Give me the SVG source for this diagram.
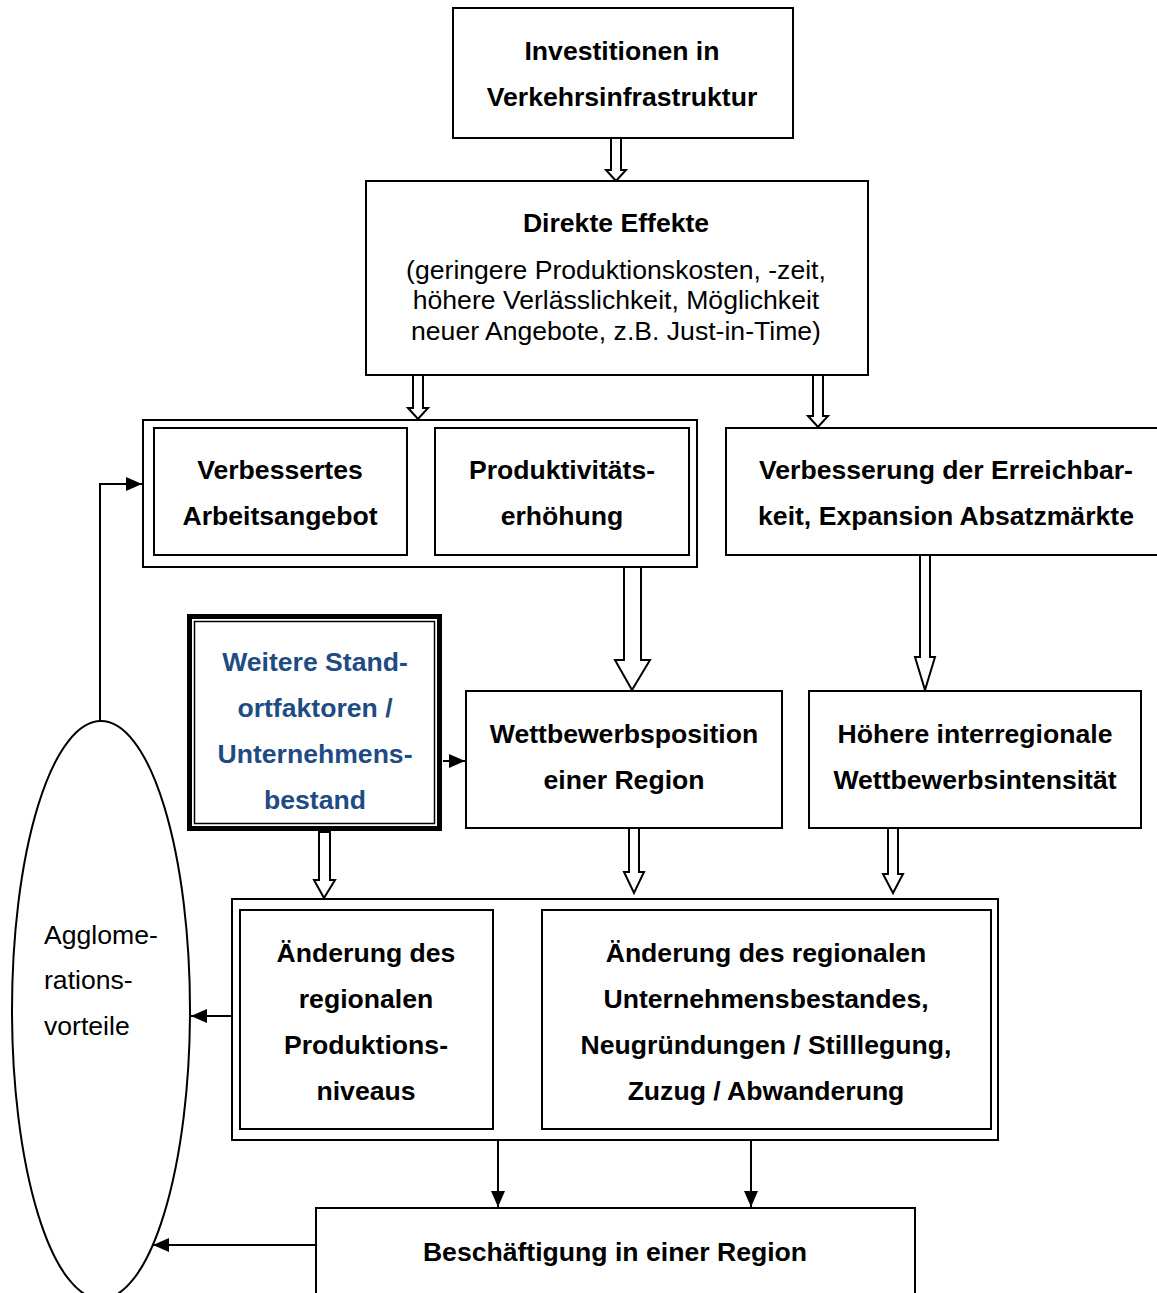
<svg xmlns="http://www.w3.org/2000/svg" width="1157" height="1293" viewBox="0 0 1157 1293">
<style>
.box{fill:#fff;stroke:#000;stroke-width:2}
.hol{fill:#fff;stroke:#000;stroke-width:2;stroke-linejoin:miter}
.ln{fill:none;stroke:#000;stroke-width:2}
.t{font-family:"Liberation Sans",Arial,sans-serif;font-size:26.6px;font-weight:bold;text-anchor:middle;fill:#000}
.r{font-family:"Liberation Sans",Arial,sans-serif;font-size:26.6px;text-anchor:middle;fill:#000}
.l{text-anchor:start}
.b{fill:#1f4b85}
</style>
<defs>
<marker id="ah" markerUnits="userSpaceOnUse" markerWidth="16" markerHeight="14" refX="16" refY="7" orient="auto">
<path d="M0,0 L16,7 L0,14 z" fill="#000"/>
</marker>
</defs>
<rect width="1157" height="1293" fill="#fff"/>

<g id="connectors">
<polygon class="hol" points="611,138 621,138 621,170 626,170 616,181 606,170 611,170"/>
<polygon class="hol" points="413,375 423,375 423,408 428,408 418,419 408,408 413,408"/>
<polygon class="hol" points="813,375 823,375 823,416 828,416 818,427 808,416 813,416"/>
<polygon class="hol" points="624,567 641,567 641,660 650,660 632,690 615,660 624,660"/>
<polygon class="hol" points="920,555 930,555 930,657 935,657 925,690 915,657 920,657"/>
<polygon class="hol" points="319,832 330,832 330,880 335,880 324,898 314,880 319,880"/>
<polygon class="hol" points="629,828 639,828 639,872 644,872 634,893 624,872 629,872"/>
<polygon class="hol" points="888,828 898,828 898,874 903,874 893,893 883,874 888,874"/>
<polyline class="ln" points="100,721 100,484 142,484" marker-end="url(#ah)"/>
<line class="ln" x1="407" y1="484" x2="434" y2="484" marker-end="url(#ah)"/>
<line class="ln" x1="443" y1="761" x2="465" y2="761" marker-end="url(#ah)"/>
<line class="ln" x1="542" y1="1016" x2="494" y2="1016" marker-end="url(#ah)"/>
<line class="ln" x1="232" y1="1016" x2="191" y2="1016" marker-end="url(#ah)"/>
<line class="ln" x1="498" y1="1140" x2="498" y2="1207" marker-end="url(#ah)"/>
<line class="ln" x1="751" y1="1140" x2="751" y2="1207" marker-end="url(#ah)"/>
<line class="ln" x1="316" y1="1245" x2="153" y2="1245" marker-end="url(#ah)"/>
</g>

<g id="investitionen">
<rect class="box" x="453" y="8" width="340" height="130"/>
<text class="t" x="622" y="60">Investitionen in</text>
<text class="t" x="622" y="106">Verkehrsinfrastruktur</text>
</g>

<g id="direkte">
<rect class="box" x="366" y="181" width="502" height="194"/>
<text class="t" x="616" y="232">Direkte Effekte</text>
<text class="r" x="616" y="279">(geringere Produktionskosten, -zeit,</text>
<text class="r" x="616" y="309">höhere Verlässlichkeit, Möglichkeit</text>
<text class="r" x="616" y="340">neuer Angebote, z.B. Just-in-Time)</text>
</g>

<g id="gruppe1">
<rect class="box" x="143" y="420" width="554" height="147"/>
</g>

<g id="arbeitsangebot">
<rect class="box" x="154" y="428" width="253" height="127"/>
<text class="t" x="280" y="479">Verbessertes</text>
<text class="t" x="280" y="525">Arbeitsangebot</text>
</g>

<g id="produktivitaet">
<rect class="box" x="435" y="428" width="254" height="127"/>
<text class="t" x="562" y="479">Produktivitäts-</text>
<text class="t" x="562" y="525">erhöhung</text>
</g>

<g id="erreichbarkeit">
<rect class="box" x="726" y="428" width="440" height="127"/>
<text class="t" x="946" y="479">Verbesserung der Erreichbar-</text>
<text class="t" x="946" y="525">keit, Expansion Absatzmärkte</text>
</g>

<g id="standortfaktoren">
<rect x="189.5" y="616.5" width="250" height="212" fill="#fff" stroke="#000" stroke-width="5"/>
<rect x="194.5" y="621.5" width="240" height="202" fill="none" stroke="#000" stroke-width="1.5"/>
<text class="t b" x="315" y="671">Weitere Stand-</text>
<text class="t b" x="315" y="717">ortfaktoren /</text>
<text class="t b" x="315" y="763">Unternehmens-</text>
<text class="t b" x="315" y="809">bestand</text>
</g>

<g id="wettbewerbsposition">
<rect class="box" x="466" y="691" width="316" height="137"/>
<text class="t" x="624" y="743">Wettbewerbsposition</text>
<text class="t" x="624" y="789">einer Region</text>
</g>

<g id="wettbewerbsintensitaet">
<rect class="box" x="809" y="691" width="332" height="137"/>
<text class="t" x="975" y="743">Höhere interregionale</text>
<text class="t" x="975" y="789">Wettbewerbsintensität</text>
</g>

<g id="gruppe2">
<rect class="box" x="232" y="899" width="766" height="241"/>
</g>

<g id="produktionsniveau">
<rect class="box" x="240" y="910" width="253" height="219"/>
<text class="t" x="366" y="962">Änderung des</text>
<text class="t" x="366" y="1008">regionalen</text>
<text class="t" x="366" y="1054">Produktions-</text>
<text class="t" x="366" y="1100">niveaus</text>
</g>

<g id="unternehmensbestand">
<rect class="box" x="542" y="910" width="449" height="219"/>
<text class="t" x="766" y="962">Änderung des regionalen</text>
<text class="t" x="766" y="1008">Unternehmensbestandes,</text>
<text class="t" x="766" y="1054">Neugründungen / Stilllegung,</text>
<text class="t" x="766" y="1100">Zuzug / Abwanderung</text>
</g>

<g id="beschaeftigung">
<rect class="box" x="316" y="1208" width="599" height="100"/>
<text class="t" x="615" y="1261">Beschäftigung in einer Region</text>
</g>

<g id="agglomeration">
<ellipse class="box" cx="101" cy="1010" rx="89" ry="289"/>
<text class="r l" x="44" y="944">Agglome-</text>
<text class="r l" x="44" y="989">rations-</text>
<text class="r l" x="44" y="1035">vorteile</text>
</g>
</svg>
